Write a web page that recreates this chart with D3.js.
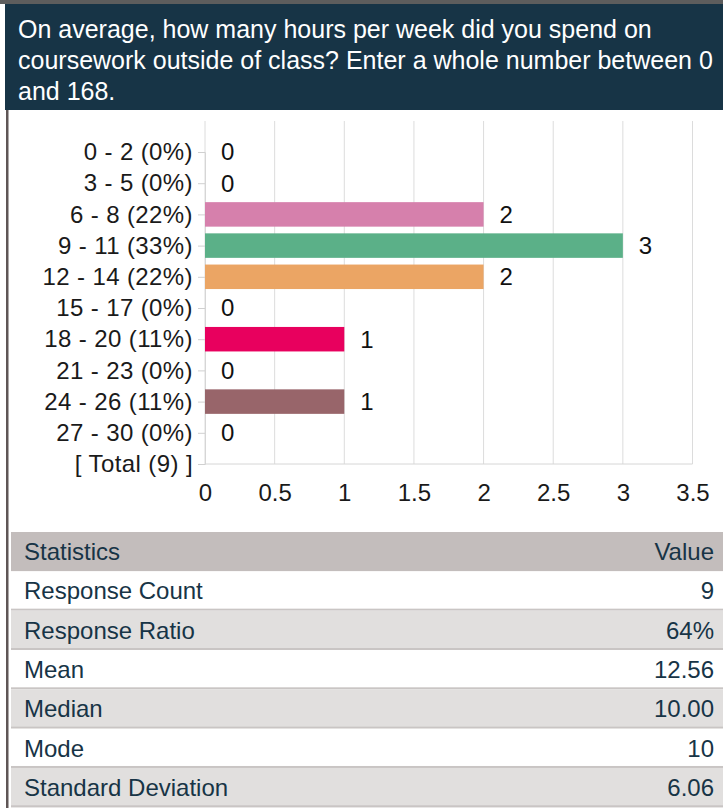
<!DOCTYPE html>
<html>
<head>
<meta charset="utf-8" />
<script src="https://cdn.jsdelivr.net/npm/d3@7"></script>
<style>
  body { margin: 0; background: #fff; }
  svg { display: block; font-family: Arial, "Liberation Sans", sans-serif; }
</style>
</head>
<body>
<svg width="723" height="808"></svg>
<script>
// domanda
var titolo = [
  "On average, how many hours per week did you spend on",
  "coursework outside of class? Enter a whole number between 0",
  "and 168."
];

// dati del grafico
var fasce = ["0 - 2", "3 - 5", "6 - 8", "9 - 11", "12 - 14", "15 - 17", "18 - 20", "21 - 23", "24 - 26", "27 - 30"];
var conteggi = [0, 0, 2, 3, 2, 0, 1, 0, 1, 0];
var percentuali = [0, 0, 22, 33, 22, 0, 11, 0, 11, 0];
var colori = ["#d680ac", "#d680ac", "#d680ac", "#5bb088", "#eba564", "#e8005e", "#e8005e", "#e8005e", "#98656a", "#98656a"];
var totale = 9;
var tickX = [0, 0.5, 1, 1.5, 2, 2.5, 3, 3.5];

// tabella statistiche
var statNomi = ["Response Count", "Response Ratio", "Mean", "Median", "Mode", "Standard Deviation"];
var statValori = ["9", "64%", "12.56", "10.00", "10", "6.06"];

var svg = d3.select("svg");

// intestazione
svg.append("rect").attr("x", 0).attr("y", 0).attr("width", 723).attr("height", 4).attr("fill", "#5d5d5d");
svg.append("rect").attr("x", 5).attr("y", 4).attr("width", 718).attr("height", 106).attr("fill", "#173446");
svg.append("rect").attr("x", 6).attr("y", 110).attr("width", 2.5).attr("height", 698).attr("fill", "#5f5656");

svg.selectAll(".titolo").data(titolo).enter().append("text")
  .attr("class", "titolo")
  .attr("x", 18)
  .attr("y", function(d, i) { return 38 + i * 31; })
  .attr("fill", "#ffffff")
  .attr("font-size", 25)
  .text(function(d) { return d; });

// scale
var righe = fasce.map(function(f, i) { return f + " (" + percentuali[i] + "%)"; });
var etichette = righe.concat(["[ Total (" + totale + ") ]"]);

var x = d3.scaleLinear().domain([0, 3.5]).range([205, 692.5]);
var y = d3.scalePoint().domain(etichette).range([152, 464]);
var altezzaBarra = 24.5;

// griglia
svg.selectAll(".griglia").data(tickX).enter().append("line")
  .attr("class", "griglia")
  .attr("x1", function(d) { return x(d); })
  .attr("x2", function(d) { return x(d); })
  .attr("y1", 121)
  .attr("y2", 464)
  .attr("stroke", "#dcdcdc")
  .attr("stroke-width", 1);

svg.append("line")
  .attr("x1", x(0)).attr("x2", x(3.5))
  .attr("y1", 464).attr("y2", 464)
  .attr("stroke", "#d6d6d6");

// asse y
var assey = svg.append("g")
  .attr("transform", "translate(" + x(0) + ",0)")
  .call(d3.axisLeft(y).tickSize(7).tickPadding(5));
assey.select(".domain").attr("stroke", "#d6d6d6");
assey.selectAll(".tick line").attr("stroke", "#d0d0d0");
assey.selectAll(".tick text")
  .attr("font-size", 24)
  .attr("letter-spacing", 0.4)
  .attr("font-family", "Arial, 'Liberation Sans', sans-serif")
  .attr("fill", "#1a1a1a");

// asse x
var assex = svg.append("g")
  .attr("transform", "translate(0,481)")
  .call(d3.axisBottom(x).tickValues(tickX).tickSize(0).tickFormat(function(d) { return d; }));
assex.select(".domain").remove();
assex.selectAll(".tick text")
  .attr("font-size", 24)
  .attr("font-family", "Arial, 'Liberation Sans', sans-serif")
  .attr("fill", "#1a1a1a");

// barre
svg.selectAll(".barra").data(conteggi).enter().append("rect")
  .attr("class", "barra")
  .attr("x", x(0))
  .attr("y", function(d, i) { return y(righe[i]) - altezzaBarra / 2; })
  .attr("width", function(d) { return x(d) - x(0); })
  .attr("height", altezzaBarra)
  .attr("fill", function(d, i) { return colori[i]; });

// valori
svg.selectAll(".valore").data(conteggi).enter().append("text")
  .attr("class", "valore")
  .attr("x", function(d) { return x(d) + 16; })
  .attr("y", function(d, i) { return y(righe[i]); })
  .attr("dy", "0.35em")
  .attr("font-size", 24)
  .attr("fill", "#111")
  .text(function(d) { return d; });

// tabella
var tabX = 11, tabY = 532, altRiga = 39.33;
var tab = svg.append("g");
tab.append("rect").attr("x", tabX).attr("y", tabY).attr("width", 723 - tabX).attr("height", altRiga).attr("fill", "#c3bdbc");
tab.append("text").attr("x", 24).attr("y", tabY + altRiga / 2).attr("dy", "0.35em")
  .attr("font-size", 24).attr("fill", "#173446").text("Statistics");
tab.append("text").attr("x", 714).attr("y", tabY + altRiga / 2).attr("dy", "0.35em")
  .attr("text-anchor", "end").attr("font-size", 24).attr("fill", "#173446").text("Value");

statNomi.forEach(function(nome, i) {
  var ry = tabY + altRiga * (i + 1);
  tab.append("rect").attr("x", tabX).attr("y", ry).attr("width", 723 - tabX).attr("height", altRiga)
    .attr("fill", i % 2 == 0 ? "#ffffff" : "#e1dfde");
  tab.append("rect").attr("x", tabX).attr("y", ry + altRiga - 2).attr("width", 723 - tabX).attr("height", 2)
    .attr("fill", "#c9c5c4");
  tab.append("text").attr("x", 24).attr("y", ry + altRiga / 2).attr("dy", "0.35em")
    .attr("font-size", 24).attr("fill", "#173446").text(nome);
  tab.append("text").attr("x", 714).attr("y", ry + altRiga / 2).attr("dy", "0.35em")
    .attr("text-anchor", "end").attr("font-size", 24).attr("fill", "#173446").text(statValori[i]);
});
</script>
</body>
</html>
